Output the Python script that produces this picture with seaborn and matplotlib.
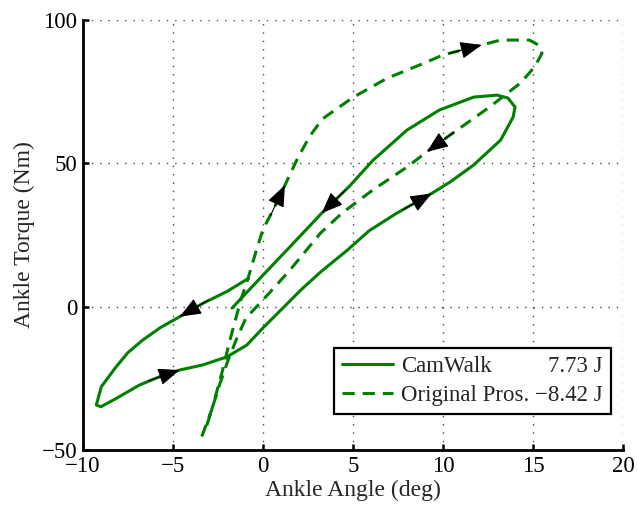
import numpy as np
import pandas as pd
import matplotlib
matplotlib.use("Agg")
import matplotlib.pyplot as plt
import seaborn as sns

# ---------------- data ----------------
cam_angle = [-0.8, -2.0, -3.33, -4.63, -5.7, -6.67, -7.5, -8.15, -8.98, -9.26,
             -9.0, -8.15, -6.85, -5.8, -4.63, -3.33, -2.0, -0.9, 0.0, 1.1,
             2.1, 3.2, 4.7, 5.9, 7.4, 9.37, 10.4, 11.7, 13.2, 13.9,
             14.0, 13.6, 13.0, 11.7, 9.8, 8.0, 6.1, 4.8, 3.26, 1.5,
             0.0, -1.72]
cam_torque = [9.9, 5.3, 1.2, -3.5, -7.3, -11.6, -16.0, -20.9, -27.9, -34.3,
              -34.9, -32.0, -27.3, -24.6, -22.1, -20.3, -17.5, -13.4, -7.4, -0.5,
              5.8, 12.1, 19.8, 26.5, 32.5, 39.5, 43.5, 49.4, 58.1, 66.2,
              69.7, 72.8, 73.8, 73.1, 68.6, 61.6, 51.0, 42.0, 32.6, 20.9,
              11.0, -0.5]
cam_arrow_idx = [3, 14, 25, 38]

pros_angle = [-3.4, -2.85, -2.3, -1.85, -1.56, -1.2, -0.85, -0.4, 0.0, 0.56,
              1.22, 1.94, 2.6, 3.3, 5.0, 6.9, 8.7, 10.0, 12.15, 13.2,
              14.8, 15.3, 15.5, 15.1, 14.3, 12.6, 10.4, 9.1, 8.0, 6.1,
              4.4, 3.2, 1.5, 0.4, -0.96, -1.43, -1.9, -2.4, -2.8, -3.2]
pros_torque = [-45.3, -36.0, -23.5, -12.0, -5.2, 3.0, 9.5, 19.0, 27.0, 33.7,
               42.4, 52.0, 59.5, 65.5, 73.0, 79.7, 84.3, 87.8, 91.3, 93.0,
               93.0, 91.3, 88.4, 83.7, 78.0, 69.7, 59.9, 54.0, 48.7, 40.7,
               32.7, 25.7, 12.8, 5.1, -4.1, -10.7, -18.0, -27.0, -35.0, -43.0]
pros_arrow_idx = [10, 18, 27]

series_names = ["CamWalk", "Original Pros."]
energies = [7.73, -8.42]

x_ticks = [-10, -5, 0, 5, 10, 15, 20]
y_ticks = [-50, 0, 50, 100]

# ---------------- style ----------------
sns.set_style("ticks")
plt.rcParams["font.family"] = ["Liberation Serif", "DejaVu Serif"]
plt.rcParams["axes.unicode_minus"] = True
FS = 16.5
GREEN = "#008000"

fig = plt.figure(figsize=(6.38, 5.09), dpi=100)
ax = fig.add_axes([83 / 638, 1 - 450 / 509, 540 / 638, 430 / 509])

df_cam = pd.DataFrame({"angle": cam_angle, "torque": cam_torque})
df_pros = pd.DataFrame({"angle": pros_angle, "torque": pros_torque})

sns.lineplot(data=df_cam, x="angle", y="torque", sort=False, estimator=None,
             color=GREEN, lw=2.2, ax=ax, label=series_names[0])
sns.lineplot(data=df_pros, x="angle", y="torque", sort=False, estimator=None,
             color=GREEN, lw=2.2, ax=ax, label=series_names[1])
ax.lines[1].set_linestyle((0, (4, 2.6)))
for ln in ax.lines:
    ln.set_solid_joinstyle("round")
    ln.set_dash_joinstyle("round")

ax.set_xlim(-10, 20)
ax.set_ylim(-50, 100)
ax.set_xticks(x_ticks)
ax.set_yticks(y_ticks)
ax.grid(True, color="#444444", lw=1.0, linestyle=(0, (1, 5)))
for s in ["top", "right"]:
    ax.spines[s].set_visible(False)
for s in ["left", "bottom"]:
    ax.spines[s].set_linewidth(2.0)
    ax.spines[s].set_color("black")
ax.tick_params(direction="in", length=4, width=1.8, labelsize=FS, pad=4, colors="black")
ax.set_xlabel("Ankle Angle (deg)", fontsize=17, labelpad=2)
ax.set_ylabel("Ankle Torque (Nm)", fontsize=17, labelpad=5)

# ---------------- arrows ----------------
fig.canvas.draw()

def add_arrows(xs, ys, idxs):
    for i in idxs:
        p1 = ax.transData.transform((xs[i], ys[i]))
        p0 = ax.transData.transform((xs[i - 1], ys[i - 1]))
        d = p1 - p0
        d = d / np.hypot(*d)
        L = 24.0  # points
        ax.annotate("", xy=(xs[i], ys[i]), xycoords="data",
                    xytext=(-d[0] * L, -d[1] * L), textcoords="offset points",
                    arrowprops=dict(arrowstyle="-|>,head_length=0.75,head_width=0.3",
                                    color="black", lw=0.8, mutation_scale=18,
                                    shrinkA=0, shrinkB=0),
                    zorder=5)

add_arrows(cam_angle, cam_torque, cam_arrow_idx)
add_arrows(pros_angle, pros_torque, pros_arrow_idx)

# ---------------- legend ----------------
def fmt(v):
    return f"{v:.2f} J".replace("-", "\u2212")

handles, _ = ax.get_legend_handles_labels()
labels = [series_names[0], f"{series_names[1]} {fmt(energies[1])}"]
leg = ax.legend(handles, labels, loc="lower right", bbox_to_anchor=(0.977, 0.083),
                fontsize=FS, frameon=True, fancybox=False, edgecolor="black",
                handlelength=2.2, handletextpad=0.35, labelspacing=0.35,
                borderpad=0.35, borderaxespad=0.0)
leg.get_frame().set_linewidth(1.6)
leg.get_frame().set_alpha(1)

fig.canvas.draw()
r = fig.canvas.get_renderer()
t1, t2 = leg.get_texts()
b1 = t1.get_window_extent(r)
b2 = t2.get_window_extent(r)
W, H = fig.canvas.get_width_height()
fig.text(b2.x1 / W, b1.y0 / H, fmt(energies[0]), ha="right", va="bottom",
         fontsize=FS, zorder=10)

fig.savefig("out.png", dpi=100)
